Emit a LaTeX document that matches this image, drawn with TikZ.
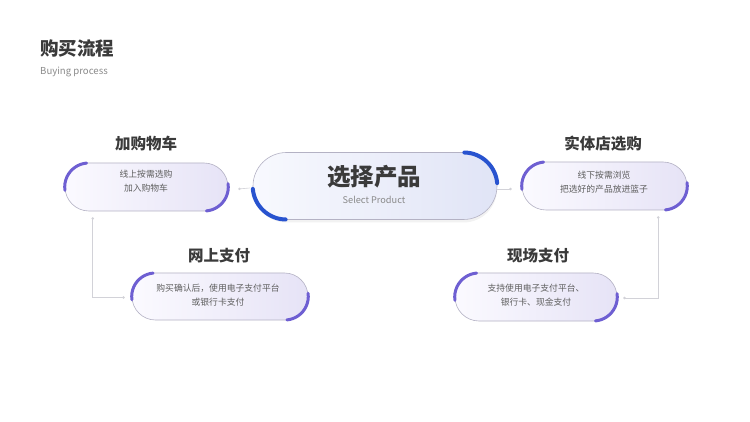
\documentclass[tikz,border=0pt]{standalone}
\usepackage{fontspec}
\setmainfont{Noto Sans CJK SC}
\usetikzlibrary{arrows.meta,shadows}
\definecolor{titlec}{HTML}{3A3A3A}
\definecolor{subc}{HTML}{8A8A8A}
\definecolor{bodyc}{HTML}{5E5E5E}
\definecolor{edgec}{HTML}{B4B2C4}
\definecolor{connc}{HTML}{D2D2D8}
\definecolor{purp}{HTML}{6E5FD2}
\definecolor{blu}{HTML}{2853CF}
\definecolor{lavA}{HTML}{FBFAFF}
\definecolor{lavB}{HTML}{E6E3F6}
\definecolor{bluA}{HTML}{F8F9FE}
\definecolor{bluB}{HTML}{E0E4F6}
\tikzset{
  capsule/.style={draw=edgec, line width=0.6pt, rectangle, rounded corners=#1, inner sep=0pt, shading angle=120, left color=lavA, right color=lavB},
  bigcap/.style={draw=edgec, line width=0.6pt, rectangle, rounded corners=33.5pt, inner sep=0pt, left color=bluA, right color=bluB,
     drop shadow={opacity=0.10, shadow xshift=0pt, shadow yshift=-3pt}},
  parc/.style={draw=purp, line width=3pt, line cap=round},
  barc/.style={draw=blu, line width=4pt, line cap=round},
  conn/.style={draw=connc, line width=0.6pt},
  ttl/.style={font=\bfseries\fontsize{15.5}{18}\selectfont, text=titlec, inner sep=0pt},
  body/.style={font=\fontsize{8.8}{14}\selectfont, text=bodyc, align=center, inner sep=0pt},
  cdot/.tip={Circle[length=2.4pt]}
}
\begin{document}
\begin{tikzpicture}[x=1pt,y=1pt]
\useasboundingbox[fill=white] (0,0) rectangle (750,-422);
% header
\node[anchor=west, font=\bfseries\fontsize{18.5}{20}\selectfont, text=titlec, inner sep=0pt] (h1) at (40,-48) {购买流程};
\node[anchor=west, font=\fontsize{9.6}{11}\selectfont, text=subc, inner sep=0pt] (h2) at (40,-72) {Buying process};
% capsules
\node[capsule=24pt, minimum width=163pt, minimum height=48pt] (lt) at (146.5,-187) {};
\node[capsule=24pt, minimum width=165pt, minimum height=48pt] (rt) at (604.5,-186) {};
\node[capsule=23.5pt, minimum width=176pt, minimum height=47pt] (bl) at (220,-296.5) {};
\node[capsule=24pt, minimum width=162pt, minimum height=48pt] (br) at (536,-297) {};
\node[bigcap, minimum width=244pt, minimum height=67pt] (sel) at (375,-186) {};
% arcs
\draw[parc] ([xshift=24pt]lt.west) ++(95:24) arc[start angle=95, end angle=188, radius=24];
\draw[parc] ([xshift=-24pt]lt.east) ++(-85:24) arc[start angle=-85, end angle=8, radius=24];
\draw[parc] ([xshift=24pt]rt.west) ++(95:24) arc[start angle=95, end angle=188, radius=24];
\draw[parc] ([xshift=-24pt]rt.east) ++(-85:24) arc[start angle=-85, end angle=8, radius=24];
\draw[parc] ([xshift=23.5pt]bl.west) ++(95:23.5) arc[start angle=95, end angle=188, radius=23.5];
\draw[parc] ([xshift=-23.5pt]bl.east) ++(-85:23.5) arc[start angle=-85, end angle=8, radius=23.5];
\draw[parc] ([xshift=24pt]br.west) ++(95:24) arc[start angle=95, end angle=188, radius=24];
\draw[parc] ([xshift=-24pt]br.east) ++(-85:24) arc[start angle=-85, end angle=8, radius=24];
\draw[barc] ([xshift=-33.5pt]sel.east) ++(5:33.5) arc[start angle=5, end angle=89, radius=33.5];
\draw[barc] ([xshift=33.5pt]sel.west) ++(185:33.5) arc[start angle=185, end angle=269, radius=33.5];
% texts
\node[font=\bfseries\fontsize{23.5}{26}\selectfont, text=titlec, inner sep=0pt] (selT) at (374,-177) {选择产品};
\node[font=\fontsize{9.2}{10}\selectfont, text=subc, inner sep=0pt] (selS) at (374,-200) {Select Product};
\node[ttl] (ltT) at (146,-144) {加购物车};
\node[ttl] (rtT) at (603,-144) {实体店选购};
\node[ttl] (blT) at (219,-256) {网上支付};
\node[ttl] (brT) at (538,-256) {现场支付};
\node[body] (ltB) at (146,-181) {线上按需选购\\加入购物车};
\node[body] (rtB) at (604,-182) {线下按需浏览\\把选好的产品放进篮子};
\node[body] (blB) at (218,-295) {购买确认后，使用电子支付平台\\或银行卡支付};
\node[body] (brB) at (536,-295) {支持使用电子支付平台、\\银行卡、现金支付};
% connectors
\draw[conn, -{cdot}] ([xshift=-3pt,yshift=-2pt]sel.west) -- ([xshift=10pt,yshift=-2pt]lt.east);
\draw[conn, -{cdot}] ([xshift=0pt,yshift=-3pt]sel.east) -- ([xshift=-10pt,yshift=-3pt]rt.west);
\draw[conn, {cdot}-{cdot}] ([xshift=28pt,yshift=-6pt]lt.south west) |- ([xshift=-7pt,yshift=-1pt]bl.west);
\draw[conn, {cdot}-{cdot}] ([xshift=-29pt,yshift=-6pt]rt.south east) |- ([xshift=6pt,yshift=-1pt]br.east);
\end{tikzpicture}
\end{document}
